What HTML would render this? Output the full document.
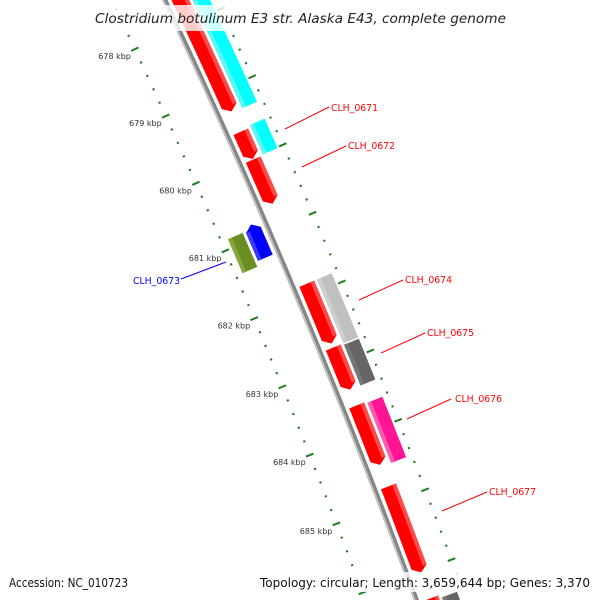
<!DOCTYPE html>
<html><head><meta charset="utf-8"><style>
html,body{margin:0;padding:0;background:#fff;width:600px;height:600px;overflow:hidden;}
svg{display:block;overflow:hidden;}
</style></head><body>
<svg id="map" xmlns="http://www.w3.org/2000/svg" width="600" height="600" viewBox="0 0 600 600">
<rect x="0" y="0" width="600" height="600" fill="#fff"/>
<g id="rings"></g>
<g id="backbone"></g>
<g id="features"></g>
<g id="labels"></g>
<rect x="88" y="5" width="424" height="26" fill="#fff" opacity="0.8"/>
<text x="95" y="23" font-family="DejaVu Sans, sans-serif" font-style="italic" font-size="13.5" fill="#222" textLength="411" lengthAdjust="spacingAndGlyphs">Clostridium botulinum E3 str. Alaska E43, complete genome</text>
<rect x="5" y="572" width="128" height="20" fill="#fff" opacity="0.8"/>
<text x="9" y="587" font-family="DejaVu Sans, sans-serif" font-size="12" fill="#111" textLength="119" lengthAdjust="spacingAndGlyphs">Accession: NC_010723</text>
<rect x="256" y="572" width="340" height="20" fill="#fff" opacity="0.8"/>
<text x="260" y="587" font-family="DejaVu Sans, sans-serif" font-size="12" fill="#111" textLength="330" lengthAdjust="spacingAndGlyphs">Topology: circular; Length: 3,659,644 bp; Genes: 3,370</text>
</svg>
<script>
// ---- data ----
var featStart = [676.0, 676.0, 679.61, 679.58, 680.02, 680.81, 680.87, 681.84, 681.84, 682.77, 682.79, 683.61, 683.63, 684.78, 686.39, 686.43];
var featEnd   = [679.31, 679.33, 680.01, 680.01, 680.67, 681.30, 681.37, 682.71, 682.77, 683.38, 683.38, 684.47, 684.50, 686.02, 688.0, 688.0];
var featLane  = [1, 2, 1, 2, 1, -1, -2, 1, 2, 1, 2, 1, 2, 1, 1, 2];
var featArrow = [1, 0, 1, 0, 1, -1, 0, 1, 0, 1, 0, 1, 0, 1, 1, 0];
var featColor = ["#ff0000","#00ffff","#ff0000","#00ffff","#ff0000","#0000ff","#6b8e23","#ff0000","#c0c0c0","#ff0000","#666666","#ff0000","#ff1493","#ff0000","#ff0000","#666666"];
var featHi    = ["#ff4a4a","#60f4f4","#ff4a4a","#60f4f4","#ff4a4a","#3a3aff","#86a640","#ff4a4a","#cecece","#ff4a4a","#777777","#ff4a4a","#ff5aae","#ff4a4a","#ff4a4a","#777777"];
var tickStart = 677, tickEnd = 689;
var majorLabels = ["678 kbp","679 kbp","680 kbp","681 kbp","682 kbp","683 kbp","684 kbp","685 kbp"];
var majorKbp = [678,679,680,681,682,683,684,685];

// ---- geometry ----
var CX = -6460, CY = 3130, R = 7327;
var A0 = -25.04 * Math.PI/180, DA = 0.58 * Math.PI/180;
function ang(k){ return A0 + (k-678)*DA; }
function pt(k, r){ var a = ang(k); return [CX + r*Math.cos(a), CY + r*Math.sin(a)]; }
function ps(p){ return p[0].toFixed(2)+","+p[1].toFixed(2); }
var NS = "http://www.w3.org/2000/svg";
function mk(tag, parent, attrs){ var e = document.createElementNS(NS, tag); for (var k in attrs) e.setAttribute(k, attrs[k]); parent.appendChild(e); return e; }
function arcPath(k1,k2,r){ var s=[], n=40; for (var i=0;i<=n;i++){ s.push(ps(pt(k1+(k2-k1)*i/n, r))); } return "M"+s.join(" L"); }

// backbone
var bb = document.getElementById('backbone');
var b1 = mk('path', bb, {d: arcPath(675, 688, R), fill:'none', stroke:'#858585', 'stroke-width':5});


var b2 = mk('path', bb, {d: arcPath(675, 688, R-1.5), fill:'none', stroke:'#c4c4c4', 'stroke-width':1.6});



// ruler rings
var rg = document.getElementById('rings');
var ringL = R - 48, ringR = R + 47;
for (var t = Math.round(tickStart*5); t <= Math.round(tickEnd*5); t++){
  var k = t/5, major = (t % 5 === 0);
  [ringL, ringR].forEach(function(rr){
    var len = major ? 4 : 1.1;
    var p1 = pt(k, rr-len), p2 = pt(k, rr+len);
    var ln = mk('line', rg, {x1:p1[0], y1:p1[1], x2:p2[0], y2:p2[1], stroke:'#1e7d1e', 'stroke-width':2});
    
    
  });
}
for (var i=0;i<majorKbp.length;i++){
  var p = pt(majorKbp[i], ringL);
  var tx = mk('text', rg, {x:(p[0]-4).toFixed(1), y:(p[1]+10).toFixed(1), 'text-anchor':'end', 'font-family':'DejaVu Sans, sans-serif', 'font-size':8, fill:'#333'});
  
  
  tx.textContent = majorLabels[i];
}

// features
var fg = document.getElementById('features');
function laneR(l){ var inner = Math.abs(l)===1 ? 6 : 25, outer = inner + 16; return l>0 ? [R+inner, R+outer] : [R-outer, R-inner]; }
var H = 0.08;
function edge(ka, kb, r){ var s=[], n=8; for (var j=0;j<=n;j++) s.push(pt(ka+(kb-ka)*j/n, r)); return s; }
for (var i=0;i<featStart.length;i++){
  var rr = laneR(featLane[i]), r1 = rr[0], r2 = rr[1], rm=(r1+r2)/2;
  var k1 = featStart[i], k2 = featEnd[i], pts;
  if (featArrow[i] === 1){
    pts = edge(k1, k2-H, r1).concat([pt(k2, rm)]).concat(edge(k2-H, k1, r2));
  } else if (featArrow[i] === -1){
    pts = [pt(k1, rm)].concat(edge(k1+H, k2, r1)).concat(edge(k2, k1+H, r2));
  } else {
    pts = edge(k1, k2, r1).concat(edge(k2, k1, r2));
  }
  var poly = mk('polygon', fg, {points: pts.map(ps).join(' '), fill: featColor[i]});
  
  
  var hr1 = featLane[i]>0 ? r2-4 : r1, hr2 = featLane[i]>0 ? r2 : r1+4;
  if (featColor[i]==="#00ffff" || featColor[i]==="#c0c0c0" || featColor[i]==="#666666" || featColor[i]==="#ff1493"){ hr1 = r1; hr2 = r1+4; }
  var hk1 = featArrow[i]===-1 ? k1+H : k1, hk2 = featArrow[i]===1 ? k2-H : k2;
  var hp = edge(hk1, hk2, hr1).concat(edge(hk2, hk1, hr2));
  var hl = mk('polygon', fg, {points: hp.map(ps).join(' '), fill: featHi[i]});
  
  
}

// labels
var labText = ["CLH_0671","CLH_0672","CLH_0673","CLH_0674","CLH_0675","CLH_0676","CLH_0677"];
var labColor = ["#ff0000","#ff0000","#0000ff","#ff0000","#ff0000","#ff0000","#ff0000"];
var labLine = [[285,129,329,107],[302,167,346,146],[226,262,181,279],[359,300,403,280],[381,353,425,333],[407,419,451,399],[442,511,487,492]];
var labPos = [[331,111,'start'],[348,149,'start'],[180,284,'end'],[405,283,'start'],[427,336,'start'],[455,402,'start'],[489,495,'start']];
var lg = document.getElementById('labels');
for (var i=0;i<labText.length;i++){
  var L = labLine[i];
  var ln = mk('line', lg, {x1:L[0], y1:L[1], x2:L[2], y2:L[3], stroke:labColor[i], 'stroke-width':1});
  
  
  var tx = mk('text', lg, {x:labPos[i][0], y:labPos[i][1], 'text-anchor':labPos[i][2], 'font-family':'DejaVu Sans, sans-serif', 'font-size':10, fill:labColor[i], textLength:47, lengthAdjust:'spacingAndGlyphs'});
  
  
  tx.textContent = labText[i];
}
</script>
</body></html>
